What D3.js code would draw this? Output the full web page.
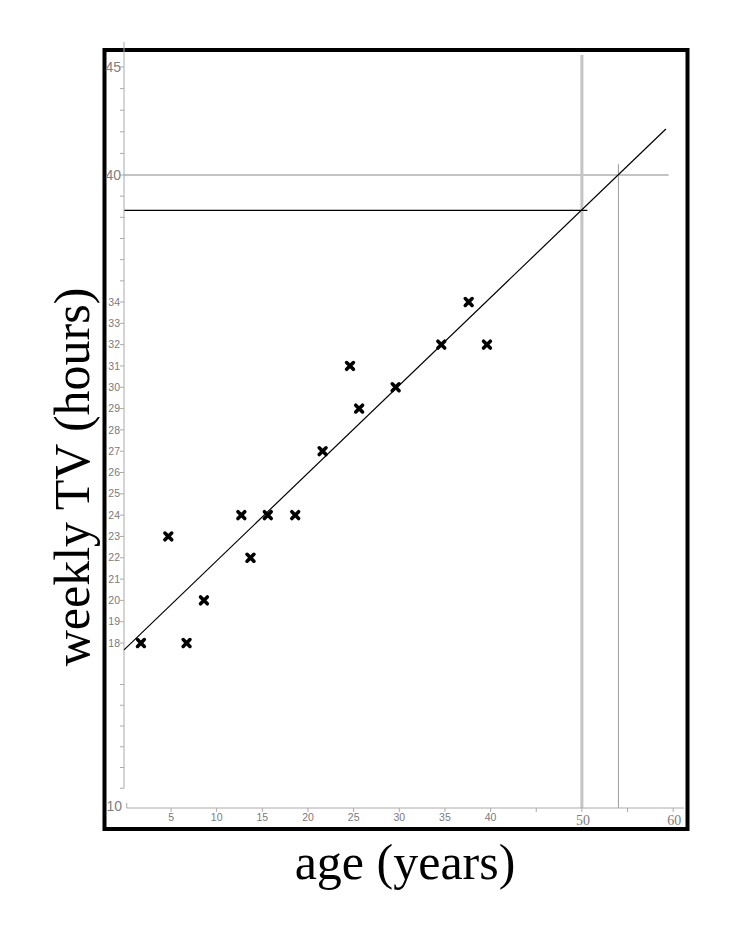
<!DOCTYPE html>
<html>
<head>
<meta charset="utf-8">
<script src="https://cdn.jsdelivr.net/npm/d3@7"></script>
<style>
  html, body { margin: 0; padding: 0; background: #fff; }
  svg { display: block; }
</style>
</head>
<body>
<svg id="chart" width="735" height="941"></svg>
<script>
// ---- data ----
const ages  = [1.7, 4.7, 6.7, 8.6, 12.7, 13.7, 15.6, 18.6, 21.6, 24.6, 25.6, 29.6, 34.6, 37.6, 39.6];
const hours = [18, 23, 18, 20, 24, 22, 24, 24, 27, 31, 29, 30, 32, 34, 32];
const fitX = [-0.15, 59.2];
const fitY = [17.67, 42.13];
const xTickValues = [5, 10, 15, 20, 25, 30, 35, 40, 45, 50, 55, 60];
const xSmallLabels = [5, 10, 15, 20, 25, 30, 35, 40];
const xBigLabels = [50, 60];
const yTickValues = [11, 12, 13, 14, 15, 16, 18, 19, 20, 21, 22, 23, 24, 25, 26, 27, 28, 29, 30, 31, 32, 33, 34, 35, 36, 37, 38, 39, 40, 41, 42, 43, 44, 45];
const ySmallLabels = [18, 19, 20, 21, 22, 23, 24, 25, 26, 27, 28, 29, 30, 31, 32, 33, 34];
const yBigLabels = [10, 40, 45];
const guideH40 = 40;        // grey horizontal guide
const guideV50 = 50;        // thick grey vertical guide
const guideV54 = 54;        // thin grey vertical guide
const readOff = {age: 50, hours: 38.33}; // black read-off line
const xTitle = "age (years)";
const yTitle = "weekly TV (hours)";

// ---- scales ----
const x = d3.scaleLinear().domain([0, 60]).range([125.4, 673.2]);
const y = d3.scaleLinear().domain([10, 18, 34, 40, 45]).range([809, 643, 302, 175, 67]);

const svg = d3.select("#chart");

// frame
svg.append("rect").attr("x", 104.5).attr("y", 50).attr("width", 583).attr("height", 779)
  .attr("fill", "none").attr("stroke", "#000").attr("stroke-width", 4);

// guides
svg.append("line").attr("x1", x(-0.15)).attr("x2", x(59.5)).attr("y1", y(guideH40)).attr("y2", y(guideH40))
  .attr("stroke", "#c4c4c4").attr("stroke-width", 2);
svg.append("line").attr("x1", x(guideV50)).attr("x2", x(guideV50)).attr("y1", 55).attr("y2", y(10) - 1)
  .attr("stroke", "#c4c4c4").attr("stroke-width", 3);
svg.append("line").attr("x1", x(guideV54)).attr("x2", x(guideV54)).attr("y1", y(40.5)).attr("y2", y(10) - 1)
  .attr("stroke", "#9a9a9a").attr("stroke-width", 1);
svg.append("line").attr("x1", x(-0.15)).attr("x2", x(readOff.age + 0.6)).attr("y1", y(readOff.hours)).attr("y2", y(readOff.hours))
  .attr("stroke", "#000").attr("stroke-width", 1.4);

// y axis
const yAxisG = svg.append("g").attr("transform", `translate(${x(-0.15)},0)`);
yAxisG.append("line").attr("y1", 42).attr("y2", y(11)).attr("stroke", "#aaa").attr("stroke-width", 1);
yAxisG.selectAll("line.tick").data(yTickValues).join("line").attr("class", "tick")
  .attr("x1", -4).attr("x2", 0).attr("y1", d => y(d)).attr("y2", d => y(d))
  .attr("stroke", "#aaa").attr("stroke-width", 1);
yAxisG.selectAll("text.small").data(ySmallLabels).join("text").attr("class", "small")
  .attr("x", -4).attr("y", d => y(d)).attr("dy", "0.35em").attr("text-anchor", "end")
  .attr("font-family", "Liberation Sans, Arial, sans-serif").attr("font-size", 10.5).attr("fill", "#7a7a7a")
  .text(d => d);
yAxisG.selectAll("text.big").data(yBigLabels).join("text").attr("class", "big")
  .attr("x", d => d === 10 ? -2 : -3).attr("y", d => d === 10 ? y(d) - 3 : y(d)).attr("dy", "0.35em").attr("text-anchor", "end")
  .attr("font-family", "Liberation Sans, Arial, sans-serif").attr("font-size", 14).attr("fill", "#808080")
  .text(d => d);

// x axis
const xAxisG = svg.append("g").attr("transform", `translate(0,808)`);
xAxisG.append("line").attr("x1", x(0.15)).attr("x2", x(61.2)).attr("stroke", "#aaa").attr("stroke-width", 1);
xAxisG.append("line").attr("x1", x(0.15)).attr("x2", x(0.15)).attr("y1", -5).attr("y2", 0).attr("stroke", "#aaa");
xAxisG.selectAll("line.tick").data(xTickValues).join("line").attr("class", "tick")
  .attr("x1", d => x(d)).attr("x2", d => x(d)).attr("y1", 0).attr("y2", 4)
  .attr("stroke", "#aaa").attr("stroke-width", 1);
xAxisG.selectAll("text.small").data(xSmallLabels).join("text").attr("class", "small")
  .attr("x", d => x(d)).attr("y", 13).attr("text-anchor", "middle")
  .attr("font-family", "Liberation Sans, Arial, sans-serif").attr("font-size", 10.5).attr("fill", "#7a7a7a")
  .text(d => d);
xAxisG.selectAll("text.big").data(xBigLabels).join("text").attr("class", "big")
  .attr("x", d => x(d) + 1).attr("y", 17).attr("text-anchor", "middle")
  .attr("font-family", "Liberation Serif, Times New Roman, serif").attr("font-size", 14).attr("fill", "#808080")
  .text(d => d);

// regression line
const fitData = fitX.map((v, i) => [v, fitY[i]]);
svg.append("path").datum(fitData)
  .attr("d", d3.line().x(d => x(d[0])).y(d => y(d[1])))
  .attr("fill", "none").attr("stroke", "#000").attr("stroke-width", 1.2);

// points
const pts = ages.map((a, i) => ({a, h: hours[i]}));
svg.selectAll("path.pt").data(pts).join("path").attr("class", "pt")
  .attr("transform", d => `translate(${x(d.a)},${y(d.h)})`)
  .attr("d", "M-3.4,-3.4L3.4,3.4M-3.4,3.4L3.4,-3.4")
  .attr("stroke", "#000").attr("stroke-width", 3.6).attr("stroke-linecap", "round");

// titles
svg.append("text").attr("x", 405).attr("y", 879).attr("text-anchor", "middle")
  .attr("font-family", "Liberation Serif, Times New Roman, serif").attr("font-size", 50).attr("fill", "#000")
  .text(xTitle);
svg.append("text").attr("transform", "translate(89,477) rotate(-90)").attr("text-anchor", "middle")
  .attr("font-family", "Liberation Serif, Times New Roman, serif").attr("font-size", 50).attr("fill", "#000")
  .text(yTitle);
</script>
</body>
</html>
